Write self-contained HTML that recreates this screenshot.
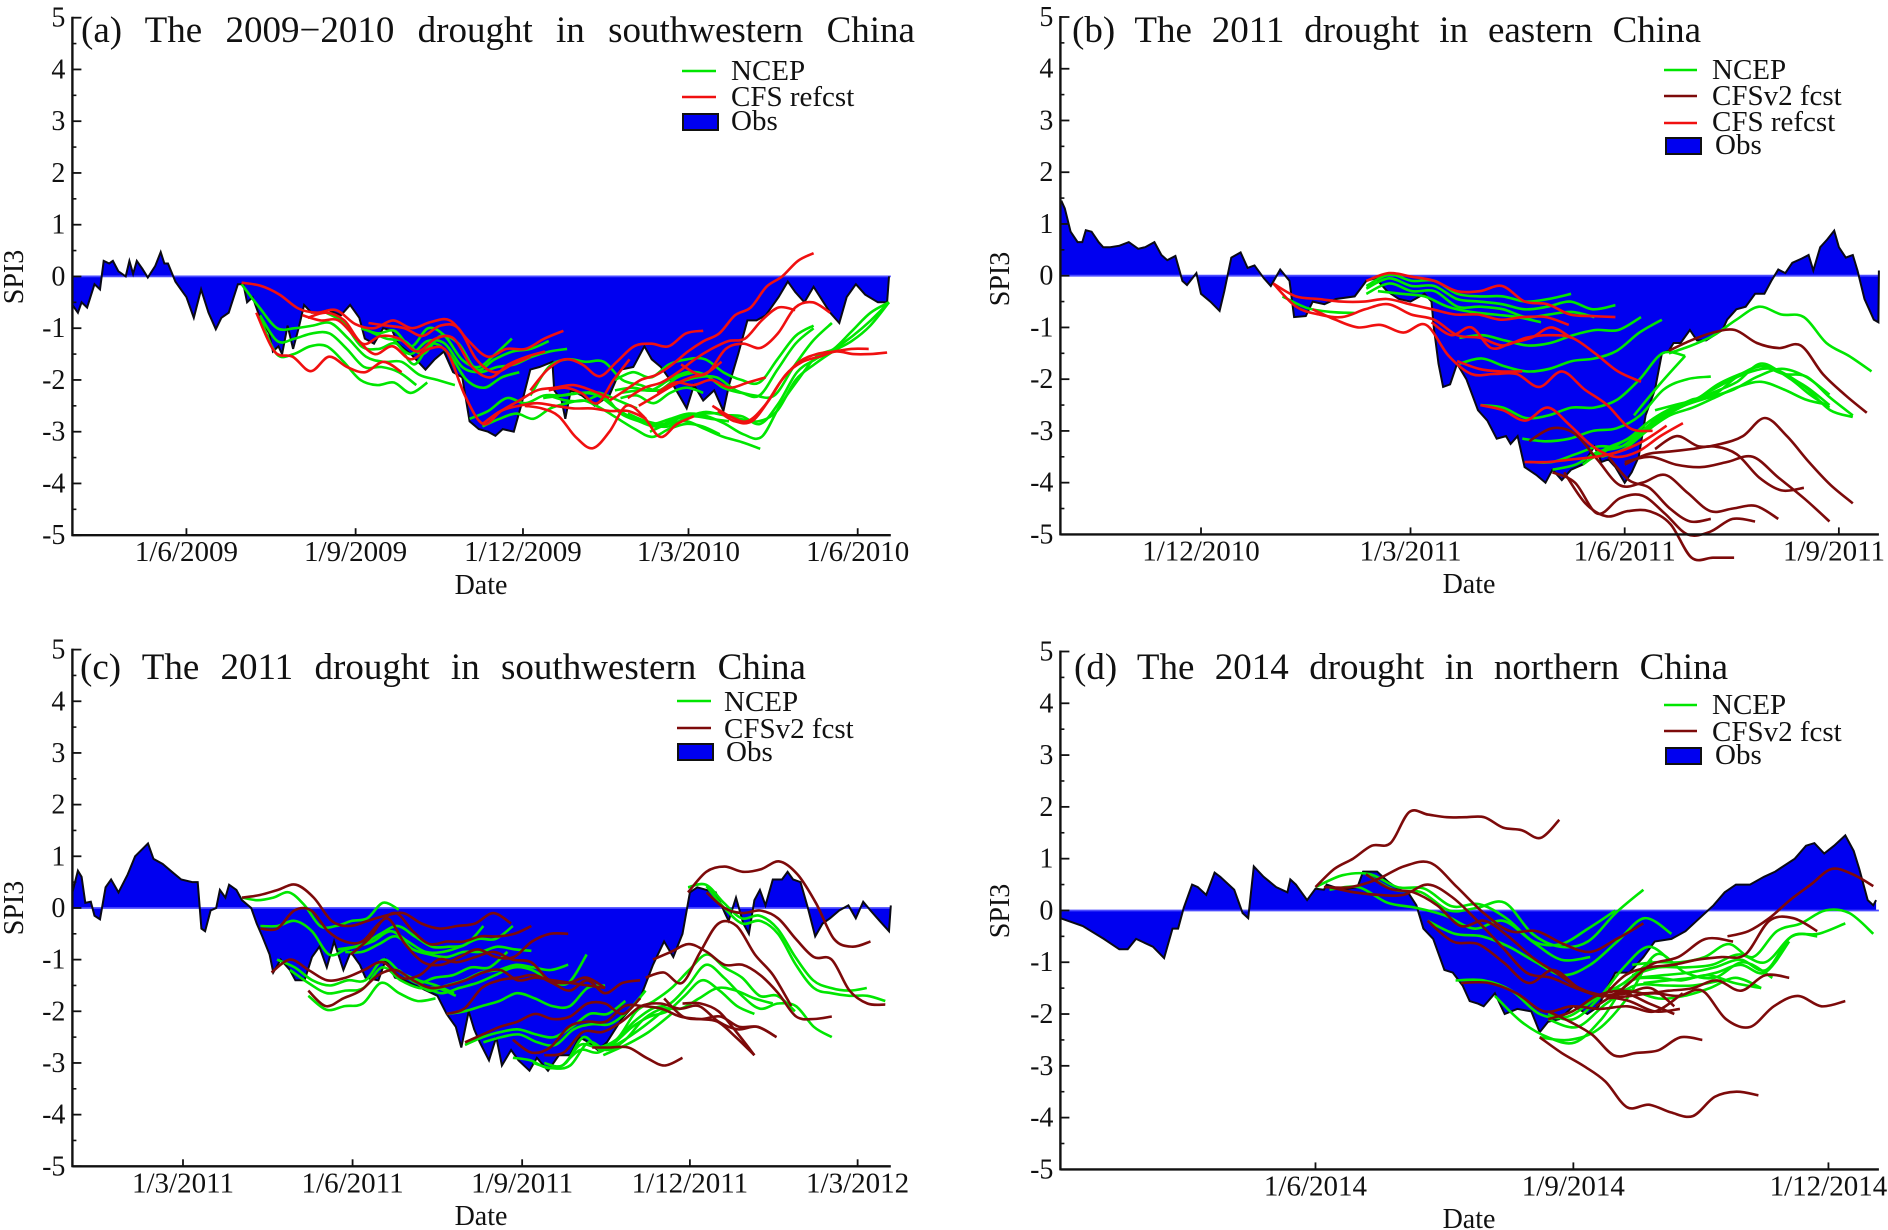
<!DOCTYPE html>
<html lang="en">
<head>
<meta charset="utf-8">
<title>SPI3 drought forecasts</title>
<style>
html,body{margin:0;padding:0;background:#fff;width:1888px;height:1230px;overflow:hidden}
svg{display:block}
text{font-family:"Liberation Serif",serif;fill:#111}
.title{font-size:37px}
.leg{font-size:29px}
.axt{font-size:28px}
.tick{font-size:28px}
.xtick{font-size:29px}
</style>
</head>
<body>
<svg id="chart" width="1888" height="1230" viewBox="0 0 1888 1230" xmlns="http://www.w3.org/2000/svg">
  <g id="panel-a"></g>
  <g id="panel-b"></g>
  <g id="panel-c"></g>
  <g id="panel-d"></g>

  <text class="title" id="title-a" x="81" y="42">(a) The 2009−2010 drought in southwestern China</text>
  <text class="title" id="title-b" x="1072" y="42">(b) The 2011 drought in eastern China</text>
  <text class="title" id="title-c" x="80" y="679">(c) The 2011 drought in southwestern China</text>
  <text class="title" id="title-d" x="1074" y="679">(d) The 2014 drought in northern China</text>

  <text class="axt" x="481" y="594" text-anchor="middle">Date</text>
  <text class="axt" x="1469" y="593" text-anchor="middle">Date</text>
  <text class="axt" x="481" y="1225" text-anchor="middle">Date</text>
  <text class="axt" x="1469" y="1228" text-anchor="middle">Date</text>
  <text class="axt" text-anchor="middle" transform="translate(23,277) rotate(-90)">SPI3</text>
  <text class="axt" text-anchor="middle" transform="translate(1009,279) rotate(-90)">SPI3</text>
  <text class="axt" text-anchor="middle" transform="translate(23,908) rotate(-90)">SPI3</text>
  <text class="axt" text-anchor="middle" transform="translate(1009,911) rotate(-90)">SPI3</text>

  <g>
    <line x1="682" y1="71" x2="716" y2="71" stroke="#00e600" stroke-width="2.6"/>
    <text class="leg" x="731" y="80">NCEP</text>
    <line x1="682" y1="97" x2="716" y2="97" stroke="#f01010" stroke-width="2.6"/>
    <text class="leg" x="731" y="106">CFS refcst</text>
    <rect x="683" y="114" width="35" height="16" fill="#0000f0" stroke="#111" stroke-width="2"/>
    <text class="leg" x="731" y="130">Obs</text>
  </g>
  <g>
    <line x1="1664" y1="70" x2="1697" y2="70" stroke="#00e600" stroke-width="2.6"/>
    <text class="leg" x="1712" y="79">NCEP</text>
    <line x1="1664" y1="96" x2="1697" y2="96" stroke="#7d0a0a" stroke-width="2.6"/>
    <text class="leg" x="1712" y="105">CFSv2 fcst</text>
    <line x1="1664" y1="123" x2="1697" y2="123" stroke="#f01010" stroke-width="2.6"/>
    <text class="leg" x="1712" y="131">CFS refcst</text>
    <rect x="1666" y="138" width="35" height="16" fill="#0000f0" stroke="#111" stroke-width="2"/>
    <text class="leg" x="1715" y="154">Obs</text>
  </g>
  <g>
    <line x1="677" y1="701" x2="711" y2="701" stroke="#00e600" stroke-width="2.6"/>
    <text class="leg" x="724" y="711">NCEP</text>
    <line x1="677" y1="728" x2="711" y2="728" stroke="#7d0a0a" stroke-width="2.6"/>
    <text class="leg" x="724" y="738">CFSv2 fcst</text>
    <rect x="678" y="744" width="35" height="16" fill="#0000f0" stroke="#111" stroke-width="2"/>
    <text class="leg" x="726" y="761">Obs</text>
  </g>
  <g>
    <line x1="1664" y1="705" x2="1697" y2="705" stroke="#00e600" stroke-width="2.6"/>
    <text class="leg" x="1712" y="714">NCEP</text>
    <line x1="1664" y1="731" x2="1697" y2="731" stroke="#7d0a0a" stroke-width="2.6"/>
    <text class="leg" x="1712" y="741">CFSv2 fcst</text>
    <rect x="1666" y="748" width="35" height="16" fill="#0000f0" stroke="#111" stroke-width="2"/>
    <text class="leg" x="1715" y="764">Obs</text>
  </g>
</svg>

<script>
// Shared y-axis values
const yMajor = [5,4,3,2,1,0,-1,-2,-3,-4,-5];
const yMinor = [4.5,3.5,2.5,1.5,0.5,-0.5,-1.5,-2.5,-3.5,-4.5];

// ---------- Panel (a): days are counted from 1/6/2009 ----------
const tickDaysA = [0,92,183,273,365];
const tickLabelsA = ["1/6/2009","1/9/2009","1/12/2009","1/3/2010","1/6/2010"];
const obsDaysA = [-62,-59,-57,-54,-50,-47,-45,-42,-40,-37,-33,-31,-29,-27,-24,-21,-17,-14,-12,-10,-6,-3,0,4,8,12,16,19,23,28,31,33,36,40,45,47,50,52,55,58,61,64,68,72,77,84,89,94,97,102,107,112,115,122,130,135,140,145,150,154,159,164,168,172,178,182,187,192,199,200,204,206,209,215,222,230,236,243,249,253,258,263,268,272,276,281,287,292,295,300,305,310,315,322,327,331,336,341,350,355,359,364,369,376,381,382];
const obsValuesA = [-0.55,-0.7,-0.5,-0.6,-0.15,-0.25,0.3,0.25,0.3,0.1,0,0.3,0.05,0.3,0.15,-0.02,0.2,0.47,0.25,0.25,-0.1,-0.25,-0.4,-0.8,-0.25,-0.7,-1.02,-0.8,-0.7,-0.15,-0.15,-0.5,-0.4,-0.8,-1.1,-1.45,-1.35,-1.5,-0.95,-1.4,-1,-0.55,-0.7,-0.7,-0.65,-0.75,-0.55,-0.8,-1.2,-1.3,-1,-1.05,-1.3,-1.5,-1.8,-1.6,-1.45,-1.85,-1.95,-2.8,-2.95,-3,-3.08,-2.95,-3,-2.5,-1.8,-1.75,-1.65,-2.2,-2.4,-2.75,-2.2,-2.3,-2.5,-2.3,-1.8,-1.75,-1.35,-1.6,-1.75,-2,-2.3,-2.55,-2.1,-2.4,-2.2,-2.6,-2.1,-1.5,-0.85,-0.85,-0.75,-0.4,-0.1,-0.3,-0.5,-0.2,-0.7,-0.9,-0.4,-0.15,-0.35,-0.5,-0.5,0];
// each forecast: [first day, last day, SPI3 values evenly spread between them...]
const ncepA = [
 [30,146,-0.15,-0.6,-1,-1,-0.95,-0.9,-1.2,-1.55,-1.65,-1.65,-1.9,-2,-2.1],
 [40,125,-0.75,-1.25,-1.2,-1.1,-1.1,-1.4,-1.75,-1.75,-1.85,-2.1],
 [40,131,-0.8,-1.5,-1.5,-1.35,-1.35,-1.65,-2,-2.1,-2.05,-2.25,-2.05],
 [76,181,-0.7,-0.9,-1.35,-1.4,-1.3,-1.7,-1.3,-1.5,-2,-2.15,-1.95,-1.85],
 [95,177,-1,-1.1,-1.05,-1.35,-1,-1.15,-1.6,-1.75,-1.5,-1.2],
 [99,197,-1.05,-1.2,-1.25,-1.5,-1.15,-1.3,-1.8,-1.6,-1.45,-1.4,-1.25],
 [112,207,-1.2,-1.5,-1.25,-1.3,-1.75,-1.85,-1.75,-1.7,-1.55,-1.45,-1.4],
 [154,245,-2.75,-2.6,-2.35,-2.45,-2.3,-2.3,-2.25,-2.25,-2.4,-2.55],
 [161,290,-2.9,-2.75,-2.65,-2.75,-2.55,-2.45,-2.4,-2.55,-2.75,-2.95,-3.1,-2.95,-2.85,-2.9,-3.05],
 [194,382,-2.35,-2.3,-2.25,-2.3,-2.55,-2.75,-2.85,-2.75,-2.65,-2.7,-2.85,-3.05,-3.1,-2.5,-2,-1.55,-1.4,-1.15,-0.85,-0.5],
 [197,295,-2.3,-2.4,-2.4,-2.3,-2.65,-2.8,-2.9,-2.75,-2.7,-2.75,-2.8],
 [187,277,-2.3,-1.75,-1.6,-1.65,-1.65,-2,-2.1,-2.2,-1.95,-1.85],
 [233,341,-2,-1.85,-1.95,-1.7,-1.6,-1.6,-1.85,-2,-2.05,-1.6,-1.15,-0.95],
 [233,341,-2.2,-2.15,-2.2,-2,-1.85,-1.9,-2.15,-2.25,-2.3,-1.8,-1.3,-1],
 [236,351,-2.25,-2.2,-2.2,-2.05,-1.95,-1.95,-2.2,-2.3,-2.3,-1.75,-1.25,-0.9],
 [236,281,-2.35,-2.3,-2.45,-2.25,-2.15,-2.25],
 [240,382,-2.65,-2.8,-2.85,-2.7,-2.65,-2.65,-2.75,-2.8,-2.6,-2,-1.7,-1.45,-1.25,-0.95,-0.5],
 [242,382,-2.7,-2.85,-2.9,-2.72,-2.62,-2.68,-2.7,-2.85,-2.45,-1.85,-1.6,-1.4,-1.05,-0.7,-0.5],
 [252,312,-3,-2.85,-2.8,-2.95,-3.1,-3.2,-3.33]
];
const refcstA = [
 [30,205,-0.12,-0.18,-0.35,-0.62,-0.7,-0.65,-0.92,-1,-0.85,-1,-0.88,-0.85,-1.25,-1.55,-1.4,-1.4,-1.2,-1.05],
 [38,117,-0.7,-1.45,-1.55,-1.83,-1.55,-1.75,-1.85,-1.65,-1.85],
 [63,230,-0.75,-0.85,-0.85,-1.2,-1.5,-1.35,-1.6,-1.4,-1.45,-2.3,-2.85,-2.6,-2.4,-2.2,-2.15,-2.1,-2.2,-2.35],
 [66,195,-0.8,-0.7,-0.85,-1.3,-1.15,-1.2,-1.45,-1.2,-1.2,-1.75,-1.95,-1.7,-1.55,-1.45],
 [99,187,-0.9,-0.95,-1,-1.15,-0.95,-1,-1.6,-1.85,-1.7,-1.55],
 [161,250,-2.85,-2.6,-2.5,-2.45,-2.5,-2.55,-2.55,-2.6,-2.6,-2.75],
 [184,276,-2.5,-2.55,-2.7,-3.1,-3.32,-3,-2.5,-2.7,-3.1,-2.85,-2.7],
 [187,281,-2.2,-1.8,-1.6,-1.7,-1.93,-1.65,-1.35,-1.3,-1.35,-1.1,-1.05],
 [197,241,-2.2,-2.15,-2.25,-2.45,-2,-1.6],
 [230,341,-2.4,-2.2,-2,-1.9,-1.7,-1.45,-1.25,-1.1,-0.75,-0.6,-0.2,0,0.3,0.45],
 [240,331,-2.35,-2.15,-2.05,-1.85,-1.6,-1.4,-1.25,-1.2,-0.85,-0.6,-0.65],
 [246,350,-2.5,-2.3,-2.1,-1.95,-1.85,-1.4,-1.3,-1.38,-1.1,-0.6,-0.5,-0.7],
 [256,315,-2.25,-2.05,-2.1,-2,-2.15,-2.05,-1.95],
 [269,291,-1.7,-1.9,-1.65],
 [286,371,-2.5,-2.7,-2.8,-2.5,-2,-1.65,-1.5,-1.45,-1.4,-1.4],
 [289,381,-2.6,-2.8,-2.8,-2.4,-1.9,-1.65,-1.55,-1.45,-1.5,-1.5,-1.47]
];

// ---------- Panel (b): days are counted from 1/12/2010 ----------
const tickDaysB = [0,90,182,274];
const tickLabelsB = ["1/12/2010","1/3/2011","1/6/2011","1/9/2011"];
const obsDaysB = [-60,-58.5,-56,-53,-51,-49.5,-47,-44,-42,-39,-35,-31,-27,-24,-20,-17,-14.5,-11,-8,-6,-2,0,4,8,10,13,17,20,23,27,30,34,38,40,45,48,53,58,66,71,75,80,85,90,96,99,100,102,104,107,110,114,119,123,127,131,133,136,139,144,148,151,155,159,164,169,172,175,178,182,185,188,191,195,198,201,203,206,210,213,217,224,226,230,234,238,242,245,248,251,254,258,261,263,266,269,272,274,277,280,282,285,289,291,291.2];
const obsValuesB = [1.45,1.3,0.85,0.65,0.65,0.88,0.85,0.65,0.55,0.55,0.58,0.65,0.52,0.55,0.65,0.4,0.3,0.38,-0.1,-0.18,0.05,-0.35,-0.5,-0.68,-0.3,0.35,0.45,0.15,0.2,-0.05,-0.2,0.12,-0.1,-0.8,-0.78,-0.5,-0.55,-0.45,-0.4,-0.1,-0.05,-0.3,-0.45,-0.5,-0.35,-0.5,-1,-1.7,-2.15,-2.1,-1.7,-2,-2.6,-2.8,-3.15,-3.1,-3.25,-3.1,-3.7,-3.85,-4,-3.75,-3.95,-3.75,-3.65,-3.3,-3.6,-3.55,-3.7,-4,-3.8,-3.5,-2.7,-2.2,-1.5,-1.45,-1.3,-1.3,-1.05,-1.25,-1.25,-1.05,-0.85,-0.65,-0.6,-0.35,-0.35,-0.1,0.12,0.05,0.25,0.33,0.4,0.1,0.55,0.7,0.87,0.55,0.35,0.4,0.1,-0.45,-0.85,-0.9,0.1];
const ncepB = [
 [71,159,-0.2,0.02,-0.1,-0.1,-0.35,-0.4,-0.4,-0.5,-0.45,-0.35],
 [71,178,-0.25,-0.05,-0.2,-0.2,-0.45,-0.5,-0.55,-0.65,-0.6,-0.5,-0.65,-0.57],
 [71,169,-0.35,-0.15,-0.3,-0.3,-0.6,-0.6,-0.65,-0.8,-0.75,-0.7,-0.8],
 [76,146,-0.3,-0.35,-0.4,-0.6,-0.7,-0.75,-0.8,-0.9],
 [111,189,-1.2,-1.15,-1.25,-1.35,-1.3,-1.15,-1.05,-1.05,-0.8],
 [111,198,-1.7,-1.6,-1.75,-1.85,-1.8,-1.65,-1.6,-1.45,-1.1,-0.85],
 [120,208,-2.5,-2.55,-2.75,-2.7,-2.55,-2.55,-2.4,-2,-1.5,-1.55],
 [138,219,-3.15,-3.2,-3.15,-3,-2.95,-2.7,-2.2,-2,-1.95],
 [141,280,-3.6,-3.6,-3.45,-3.3,-3.3,-3,-2.65,-2.4,-2.3,-1.95,-1.75,-1.9,-1.95,-2.35,-2.7],
 [151,270,-3.75,-3.65,-3.4,-3.3,-2.95,-2.6,-2.45,-2.25,-2.05,-1.7,-1.9,-2.15,-2.5],
 [164,280,-3.65,-3.35,-3.15,-2.8,-2.55,-2.4,-2.1,-1.9,-1.75,-1.9,-2.2,-2.6,-2.73],
 [172,270,-3.5,-3.35,-3,-2.7,-2.55,-2.35,-2.15,-2.05,-2.2,-2.4,-2.5],
 [167,270,-3.55,-3.3,-3.05,-2.75,-2.5,-2.35,-2.2,-1.95,-1.8,-1.95,-2.3],
 [201,288,-1.5,-1.35,-1.15,-0.85,-0.6,-0.75,-0.8,-1.3,-1.55,-1.85],
 [35,66,-0.4,-0.62,-0.7,-0.72],
 [186,208,-2.7,-2.1,-1.55],
 [195,270,-2.6,-2.5,-2.4,-2.2,-2,-1.85,-1.8,-2,-2.3,-2.55]
];
const fcstB = [
 [141,248,-3.2,-2.95,-3.05,-3.55,-4.05,-4,-3.85,-4.2,-4.55,-4.5,-4.45,-4.7],
 [151,238,-3.8,-4,-4.6,-4.3,-4.25,-4.6,-5,-4.95,-4.7,-4.75],
 [156,229,-3.8,-4.4,-4.65,-4.55,-4.55,-4.8,-5.45,-5.45,-5.45],
 [175,219,-3.5,-3.95,-4.1,-4.5,-4.75,-4.7],
 [182,259,-3.65,-3.45,-3.4,-3.35,-3.3,-3.45,-3.9,-4.15,-4.1],
 [195,280,-3.35,-3.1,-3.3,-3.25,-3.1,-2.75,-3.1,-3.6,-4.05,-4.4],
 [182,270,-3.6,-3.5,-3.65,-3.7,-3.6,-3.5,-3.9,-4.3,-4.75],
 [201,286,-1.45,-1.25,-1.1,-1.05,-1.3,-1.4,-1.35,-1.9,-2.3,-2.65]
];
const refcstB = [
 [71,178,-0.1,0.05,-0.02,-0.1,-0.3,-0.3,-0.2,-0.5,-0.55,-0.75,-0.78,-0.8],
 [31,158,-0.15,-0.4,-0.45,-0.5,-0.5,-0.45,-0.55,-0.65,-0.75,-0.75,-0.85,-0.8,-0.8,-0.95],
 [31,189,-0.15,-0.6,-0.75,-0.8,-0.65,-0.55,-0.75,-0.85,-1.15,-1.2,-1.35,-1.2,-1.15,-1.2,-1.5,-1.85,-2.05],
 [48,194,-0.65,-0.85,-1,-0.95,-1.1,-0.95,-1.55,-1.9,-1.9,-1.9,-2.15,-1.85,-2.2,-2.5,-2.95,-3],
 [99,159,-0.9,-1.15,-1,-1.4,-1.3,-1.2,-1,-1.2],
 [110,138,-1.65,-1.8,-1.85,-1.85],
 [120,207,-2.5,-2.6,-2.8,-2.55,-2.9,-3.3,-3.5,-3.4,-3.1,-2.85],
 [139,200,-3.6,-3.6,-3.55,-3.5,-3.4,-3.2,-2.9]
];

// ---------- Panel (c): days are counted from 1/3/2011 ----------
const tickDaysC = [0,92,184,275,366];
const tickLabelsC = ["1/3/2011","1/6/2011","1/9/2011","1/12/2011","1/3/2012"];
const obsDaysC = [-60,-57,-55,-53,-50,-48,-45,-42,-39,-35,-30,-26,-19,-16,-11,-6,-1,5,8,10,12,15,18,20,23,25,29,32,37,40,43,47,49,53,58,61,66,70,74,78,82,87,91,96,99,106,110,115,120,129,138,143,148,151,155,158,161,166,170,173,178,182,188,192,198,204,210,215,220,225,230,238,248,255,261,266,271,275,279,284,289,294,296,300,304,307,310,313,316,320,325,328,331,335,339,343,347,351,356,361,365,369,373,378,383,384];
const obsValuesC = [0.3,0.72,0.6,0.1,0.12,-0.15,-0.22,0.4,0.55,0.3,0.65,1,1.25,0.95,0.85,0.7,0.55,0.5,0.5,-0.4,-0.45,-0.05,0,0.35,0.2,0.45,0.35,0.15,0,-0.3,-0.55,-0.9,-1.25,-1,-1.2,-1.4,-1.4,-0.95,-0.75,-1.15,-0.65,-1.2,-0.85,-1.1,-1.35,-1.4,-1,-1.35,-1.4,-1.55,-1.7,-2.05,-2.3,-2.7,-2,-2.35,-2.6,-2.95,-2.5,-3.05,-2.75,-2.95,-3.15,-2.9,-3.15,-2.85,-2.85,-2.5,-2.6,-2.75,-2.6,-2.15,-1.75,-1.1,-0.65,-0.95,-0.5,0.3,0.4,0.35,0.3,-0.1,-0.25,0.2,-0.3,-0.5,0.15,0.35,0.05,0.55,0.55,0.7,0.55,0.5,0,-0.55,-0.3,-0.2,-0.05,0.05,-0.2,0.12,-0.05,-0.25,-0.45,0.05];
const ncepC = [
 [32,117,0.2,0.15,0.2,0.3,0.05,-0.35,-0.35,-0.25,-0.2,0.1,-0.03],
 [42,163,-0.35,-0.35,-0.25,-0.45,-0.9,-0.8,-0.7,-0.5,-0.35,-0.55,-0.75,-0.75,-0.7,-0.35],
 [51,147,-1,-1.15,-1.4,-1.5,-1.4,-1.4,-1,-1.25,-1.4,-1.5,-1.65],
 [58,148,-1.2,-1.45,-1.65,-1.6,-1.55,-1.15,-1.4,-1.55,-1.55,-1.7],
 [68,137,-1.7,-1.97,-1.9,-1.85,-1.45,-1.65,-1.8,-1.75],
 [84,179,-0.8,-0.75,-0.65,-0.45,-0.65,-0.85,-0.85,-0.75,-0.6,-0.6,-0.35],
 [88,189,-0.85,-0.85,-0.7,-0.55,-0.8,-0.9,-0.95,-0.85,-0.85,-0.75,-0.8,-0.83],
 [117,176,-1.2,-1.45,-1.35,-1.3,-1.15,-1.15,-0.85],
 [124,209,-1.35,-1.6,-1.5,-1.4,-1.25,-1.2,-1.1,-1.15,-1.2,-1.1],
 [130,219,-1.5,-1.65,-1.55,-1.45,-1.3,-1.15,-1.2,-1.4,-1.45,-0.9],
 [153,240,-2.65,-2.5,-2.4,-2.35,-2.45,-2.5,-2.3,-2.05,-2.05,-1.8],
 [143,229,-2.05,-2,-1.9,-1.8,-1.65,-1.75,-1.9,-1.9,-1.55,-1.5],
 [163,251,-2.6,-2.5,-2.45,-2.6,-2.65,-2.35,-2.25,-2.25,-2,-1.6],
 [179,332,-2.9,-2.95,-3.1,-3,-2.5,-2.75,-2.5,-2,-1.8,-1.55,-1.2,-0.9,-1.15,-1.35,-1.7,-1.7,-2],
 [196,352,-3,-3.05,-2.65,-2.7,-2.55,-2.2,-1.95,-1.85,-1.5,-1.1,-1.35,-1.7,-1.95,-1.85,-1.9,-2.3,-2.5],
 [206,310,-3.05,-2.75,-2.8,-2.6,-2.3,-2.1,-2,-1.7,-1.4,-1.6,-1.9,-2.05],
 [190,320,-3,-3.1,-3.05,-2.6,-2.75,-2.55,-2.15,-1.95,-1.95,-1.75,-1.55,-1.6,-1.75,-1.85],
 [225,262,-2.8,-2.6,-2.3,-1.95],
 [228,265,-2.85,-2.65,-2.4,-2.05],
 [274,371,0.4,0.45,0.1,-0.2,-0.15,-0.4,-0.95,-1.4,-1.55,-1.6,-1.55],
 [284,381,0.42,0,-0.3,-0.25,-0.5,-1.1,-1.55,-1.65,-1.7,-1.7,-1.8]
];
const fcstC = [
 [32,178,0.2,0.25,0.35,0.45,0.2,-0.25,-0.35,-0.25,-0.15,-0.1,-0.3,-0.4,-0.35,-0.3,-0.1,-0.3],
 [42,189,-0.4,-0.4,-0.05,-0.05,-0.45,-0.65,-0.65,-0.3,-0.1,-0.45,-0.7,-0.65,-0.65,-0.55,-0.55,-0.5,-0.35],
 [48,229,-1.25,-1,-1.2,-1.4,-1.35,-1.2,-1.05,-1.35,-1.3,-1,-1.05,-0.95,-0.85,-1,-1.05,-1.4,-1.45,-1.35,-1.55],
 [68,229,-1.6,-1.9,-1.75,-1.6,-1.3,-1.2,-1.4,-1.55,-1.5,-1.4,-1.25,-1.2,-1.4,-1.35,-1.4,-1.45,-1.5,-1.55],
 [91,209,-0.9,-0.6,-0.2,-0.7,-1.05,-1.1,-0.95,-0.8,-0.95,-0.95,-0.65,-0.5,-0.5],
 [143,248,-2.05,-1.95,-1.55,-1.4,-1.35,-1.3,-1.45,-1.6,-1.4,-1.65,-1.45,-1.4],
 [153,248,-2.6,-2.45,-2.3,-2.2,-2.05,-2.15,-2.1,-1.85,-1.85,-2.05,-1.75],
 [179,310,-2.55,-2.8,-2.7,-2.3,-2.2,-2.2,-1.9,-1.9,-1.95,-2.1,-2.15,-2.2,-2.5,-2.85],
 [196,322,-2.85,-2.8,-2.4,-2.4,-2.2,-1.9,-1.85,-1.95,-1.9,-2.2,-2.35,-2.3,-2.5],
 [222,271,-2.7,-2.7,-2.7,-2.9,-3.05,-2.9],
 [255,352,-1,-0.85,-0.7,-0.85,-1.1,-1.1,-1.3,-1.65,-2.1,-2.15,-2.1],
 [251,330,-1.35,-1.25,-1.45,-0.85,-0.3,-0.35,-0.9,-1.3,-1.9],
 [274,373,0.3,0.7,0.8,0.7,0.75,0.9,0.65,0.1,-0.6,-0.75,-0.65],
 [284,381,0.3,0,-0.1,-0.05,-0.2,-0.6,-0.95,-1,-1.6,-1.85,-1.87],
 [261,322,-1.75,-2.1,-2.15,-2.1,-2.3,-2.3,-2.5],
 [271,310,-1.85,-1.85,-2,-2.4,-2.85]
];

// ---------- Panel (d): days are counted from 1/6/2014 ----------
const tickDaysD = [0,92,183];
const tickLabelsD = ["1/6/2014","1/9/2014","1/12/2014"];
const obsDaysD = [-91,-83,-75.5,-70,-67,-64,-58,-54,-51,-49,-47,-44,-42,-39,-36,-34,-29,-26,-24,-22,-18.5,-14,-10,-9,-7,-3,0,3,4,9.5,15,17,20,22,26,30,33,36,38.5,42,46,49,52.5,55,58,60,64,67.5,72,77,80,83,87,92,97,101,104,107,112,117,121,127,132,136,140,142,146,150,155,160,164,171,175,178,181.5,185,189,192,194,197,199,200];
const obsValuesD = [-0.15,-0.3,-0.55,-0.75,-0.75,-0.55,-0.7,-0.92,-0.35,-0.35,0.05,0.5,0.45,0.3,0.73,0.65,0.4,-0.05,-0.15,0.85,0.65,0.45,0.35,0.6,0.5,0.2,0.42,0.4,0.5,0.4,0.45,0.75,0.75,0.75,0.55,0.4,0.35,0.1,-0.35,-0.55,-1.15,-1.2,-1.45,-1.75,-1.8,-1.85,-1.6,-2,-1.9,-1.95,-2.35,-2.15,-2.1,-1.85,-2,-1.85,-1.5,-1.2,-1.2,-0.9,-0.6,-0.55,-0.4,-0.2,0,0.1,0.35,0.5,0.5,0.65,0.75,1,1.25,1.3,1.1,1.25,1.45,1.15,0.8,0.2,0.1,0.2];
const ncepD = [
 [0,107,0.45,0.68,0.7,0.45,0.42,0.08,0.12,-0.15,-0.6,-0.65,-0.35,0],
 [18,117,0.7,0.4,0.35,0,0.05,0.15,-0.45,-0.7,-0.6,-0.05,0.4],
 [5,98,0.4,0.45,0.15,0.05,-0.1,-0.35,-0.2,-0.6,-0.95,-0.9],
 [40,127,-0.2,-0.45,-0.5,-0.7,-1,-1.25,-1.05,-0.6,-0.15,-0.45],
 [50,120,-1.35,-1.35,-1.55,-2,-2.05,-1.7,-1.4,-0.95],
 [64,159,-1.65,-2.15,-2.45,-2.55,-2.1,-1.4,-1.3,-1.35,-1.25,-1.4,-1.5],
 [80,163,-2.45,-2.5,-2.3,-1.7,-0.85,-1.2,-1.3,-1,-1.3],
 [83,145,-2.1,-2.25,-1.8,-1.45,-1.45,-1.45,-1.35],
 [113,199,-1.05,-1,-1,-0.9,-0.65,-0.9,-0.4,-0.25,0,-0.05,-0.45],
 [113,189,-1.25,-1.1,-1.1,-1.05,-0.85,-1,-0.5,-0.45,-0.25],
 [115,179,-1.3,-1.25,-1.2,-1.1,-0.95,-1.15,-0.5,-0.5],
 [117,169,-1.4,-1.35,-1.3,-1.2,-1.05,-1.2,-0.6],
 [104,159,-1.5,-1.55,-1.7,-1.65,-1.5,-1.3,-1.5],
 [83,128,-2,-2.1,-1.7,-1.1,-0.7,-1.05]
];
const fcstD = [
 [0,87,0.45,0.8,1,1.25,1.3,1.9,1.85,1.8,1.8,1.8,1.6,1.55,1.4,1.75],
 [3,117,0.45,0.45,0.6,0.85,0.92,0.45,-0.05,-0.4,-0.4,-0.65,-0.8,-0.55,-0.25],
 [5,128,0.45,0.35,0.3,0.3,0.5,0.25,-0.2,-0.7,-1.2,-1.3,-1.5,-1.65,-1.6,-1.8,-2],
 [18,128,0.7,0.42,0.35,0.1,-0.3,-0.2,-0.5,-0.9,-1.2,-1.5,-1.65,-1.6,-1.5,-1.85],
 [40,130,-0.2,-0.6,-0.65,-1,-1.4,-1.15,-1.5,-1.65,-1.75,-1.95,-1.9],
 [52,131,-1.4,-1.4,-1.6,-1.95,-1.85,-1.9,-1.85,-1.95,-1.6],
 [80,158,-2.45,-2.75,-3,-3.3,-3.8,-3.75,-3.9,-3.97,-3.6,-3.5,-3.57],
 [83,138,-1.95,-2.15,-2.4,-2.8,-2.75,-2.7,-2.45,-2.5],
 [83,169,-2.1,-1.95,-1.65,-1.55,-1.6,-1.55,-1.5,-1.35,-1.55,-1.25,-1.3],
 [100,149,-1.85,-1.5,-1.05,-0.9,-0.55,-0.6],
 [102,179,-1.7,-1.25,-1.1,-1.05,-0.95,-0.9,-0.85,-0.2,-0.15,-0.4],
 [104,189,-1.7,-1.65,-1.6,-1.65,-1.55,-2.1,-2.25,-1.85,-1.65,-1.85,-1.75],
 [147,199,-0.5,-0.4,-0.15,0.2,0.5,0.8,0.7,0.47]
];

// Title widths, measured on the reference
const titleIds = ['title-a','title-b','title-c','title-d'];
const titleWidths = [834,629,726,654];

// ---------- Layout of the four plot frames ----------
const panels = [
 {id:'a',left:72.4,right:890.8,y5:17.7,ym5:535.2,dayLeft:-62,dayRight:383,tickDays:tickDaysA,tickLabels:tickLabelsA,obsDays:obsDaysA,obsValues:obsValuesA,series:[['ncep',ncepA,'#00e600'],['refcst',refcstA,'#f01010']]},
 {id:'b',left:1060.4,right:1878.9,y5:17,ym5:534.4,dayLeft:-60.4,dayRight:291.2,tickDays:tickDaysB,tickLabels:tickLabelsB,obsDays:obsDaysB,obsValues:obsValuesB,series:[['ncep',ncepB,'#00e600'],['fcst',fcstB,'#7d0a0a'],['refcst',refcstB,'#f01010']]},
 {id:'c',left:72.4,right:890.8,y5:649.6,ym5:1166.3,dayLeft:-60,dayRight:384,tickDays:tickDaysC,tickLabels:tickLabelsC,obsDays:obsDaysC,obsValues:obsValuesC,series:[['ncep',ncepC,'#00e600'],['fcst',fcstC,'#7d0a0a']]},
 {id:'d',left:1060.4,right:1878.9,y5:651.5,ym5:1169.4,dayLeft:-91,dayRight:201,tickDays:tickDaysD,tickLabels:tickLabelsD,obsDays:obsDaysD,obsValues:obsValuesD,series:[['ncep',ncepD,'#00e600'],['fcst',fcstD,'#7d0a0a']]}
];

const NS = 'http://www.w3.org/2000/svg';

titleIds.forEach(function(id,i){
  const t = document.getElementById(id);
  const natural = t.getComputedTextLength();
  const gaps = t.textContent.split(' ').length - 1;
  t.style.wordSpacing = ((titleWidths[i] - natural) / gaps).toFixed(2) + 'px';
});

function smoothPath(pts){
  let d = 'M' + pts[0][0].toFixed(1) + ' ' + pts[0][1].toFixed(1);
  for(let i = 0; i < pts.length - 1; i++){
    const p0 = pts[Math.max(i-1,0)], p1 = pts[i], p2 = pts[i+1], p3 = pts[Math.min(i+2,pts.length-1)];
    const c1x = p1[0] + (p2[0]-p0[0])/6, c1y = p1[1] + (p2[1]-p0[1])/6;
    const c2x = p2[0] - (p3[0]-p1[0])/6, c2y = p2[1] - (p3[1]-p1[1])/6;
    d += 'C' + c1x.toFixed(1) + ' ' + c1y.toFixed(1) + ' ' + c2x.toFixed(1) + ' ' + c2y.toFixed(1) + ' ' + p2[0].toFixed(1) + ' ' + p2[1].toFixed(1);
  }
  return d;
}

panels.forEach(function(p){
  const g = document.getElementById('panel-' + p.id);
  const sx = function(day){ return p.left + (day - p.dayLeft) * (p.right - p.left) / (p.dayRight - p.dayLeft); };
  const sy = function(v){ return p.y5 + (5 - v) * (p.ym5 - p.y5) / 10; };

  // observed area
  const obsPts = p.obsDays.map(function(day,i){ return sx(day).toFixed(1) + ' ' + sy(p.obsValues[i]).toFixed(1); });
  const zeroY = sy(0).toFixed(1);
  const area = document.createElementNS(NS,'path');
  
  
  area.setAttribute('d', 'M' + sx(p.obsDays[0]).toFixed(1) + ' ' + zeroY + 'L' + obsPts.join('L') + 'L' + sx(p.obsDays[p.obsDays.length-1]).toFixed(1) + ' ' + zeroY + 'Z');
  area.setAttribute('fill', '#0000f0');
  g.appendChild(area);

  const zero = document.createElementNS(NS,'line');
  
  
  zero.setAttribute('x1', p.left);
  zero.setAttribute('x2', p.right);
  zero.setAttribute('y1', zeroY);
  zero.setAttribute('y2', zeroY);
  zero.setAttribute('stroke', '#4a4aff');
  zero.setAttribute('stroke-width', '1.8');
  g.appendChild(zero);

  const outline = document.createElementNS(NS,'path');
  
  
  outline.setAttribute('d', 'M' + obsPts.join('L'));
  outline.setAttribute('fill', 'none');
  outline.setAttribute('stroke', '#0a0a14');
  outline.setAttribute('stroke-width', '2');
  g.appendChild(outline);

  // forecast lines
  p.series.forEach(function(s){
    s[1].forEach(function(line,k){
      const first = line[0];
      const last = line[1];
      const vals = line.slice(2);
      const pts = vals.map(function(v,i){ return [sx(first + i*(last-first)/(vals.length-1)), sy(v)]; });
      const path = document.createElementNS(NS,'path');
      
      
      path.setAttribute('d', smoothPath(pts));
      path.setAttribute('fill', 'none');
      path.setAttribute('stroke', s[2]);
      path.setAttribute('stroke-width', '2.6');
      g.appendChild(path);
    });
  });

  // axes
  const yAxis = document.createElementNS(NS,'line');
  
  
  yAxis.setAttribute('x1', p.left);
  yAxis.setAttribute('x2', p.left);
  yAxis.setAttribute('y1', p.y5 - 1);
  yAxis.setAttribute('y2', p.ym5 + 1);
  yAxis.setAttribute('stroke', '#111');
  yAxis.setAttribute('stroke-width', '2.4');
  g.appendChild(yAxis);

  const xAxis = document.createElementNS(NS,'line');
  
  
  xAxis.setAttribute('x1', p.left);
  xAxis.setAttribute('x2', p.right);
  xAxis.setAttribute('y1', p.ym5);
  xAxis.setAttribute('y2', p.ym5);
  xAxis.setAttribute('stroke', '#111');
  xAxis.setAttribute('stroke-width', '2.4');
  g.appendChild(xAxis);

  yMajor.forEach(function(v){
    const t = document.createElementNS(NS,'line');
    
    
    t.setAttribute('x1', p.left);
    t.setAttribute('x2', p.left + 9);
    t.setAttribute('y1', sy(v));
    t.setAttribute('y2', sy(v));
    t.setAttribute('stroke', '#111');
    t.setAttribute('stroke-width', '1.8');
    g.appendChild(t);
    const lab = document.createElementNS(NS,'text');
    
    
    lab.setAttribute('class', 'tick');
    lab.setAttribute('x', p.left - 7);
    lab.setAttribute('y', sy(v) + 9);
    lab.setAttribute('text-anchor', 'end');
    lab.textContent = String(v);
    g.appendChild(lab);
  });
  yMinor.forEach(function(v){
    const t = document.createElementNS(NS,'line');
    
    
    t.setAttribute('x1', p.left);
    t.setAttribute('x2', p.left + 4);
    t.setAttribute('y1', sy(v));
    t.setAttribute('y2', sy(v));
    t.setAttribute('stroke', '#111');
    t.setAttribute('stroke-width', '1.6');
    g.appendChild(t);
  });
  p.tickDays.forEach(function(day,i){
    const t = document.createElementNS(NS,'line');
    
    
    t.setAttribute('x1', sx(day));
    t.setAttribute('x2', sx(day));
    t.setAttribute('y1', p.ym5);
    t.setAttribute('y2', p.ym5 - 7);
    t.setAttribute('stroke', '#111');
    t.setAttribute('stroke-width', '1.8');
    g.appendChild(t);
    const lab = document.createElementNS(NS,'text');
    
    
    lab.setAttribute('class', 'xtick');
    lab.setAttribute('x', Math.min(sx(day), 1888 - 54));
    lab.setAttribute('y', p.ym5 + 26);
    lab.setAttribute('text-anchor', 'middle');
    lab.textContent = p.tickLabels[i];
    g.appendChild(lab);
  });
});
</script>
</body>
</html>
